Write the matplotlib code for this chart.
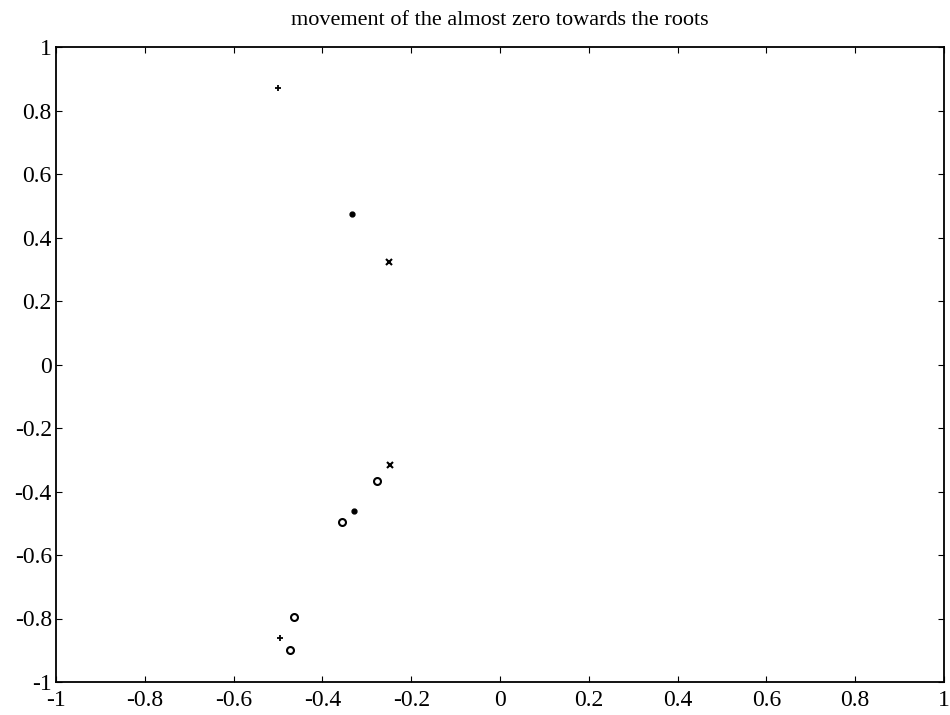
import numpy as np
import matplotlib
matplotlib.use('Agg')
from matplotlib import pyplot as plt

plt.rcParams['font.family'] = ['Liberation Serif', 'DejaVu Serif']

# points, one group per marker
plus_x = [-0.5, -0.495]
plus_y = [0.872, -0.862]
dot_x = [-0.333, -0.328]
dot_y = [0.474, -0.462]
cross_x = [-0.25, -0.248]
cross_y = [0.324, -0.316]
circ_x = [-0.276, -0.355, -0.463, -0.472]
circ_y = [-0.366, -0.495, -0.795, -0.898]

ticks = np.arange(-1, 1.01, 0.2)
tick_labels = ['-1', '-0.8', '-0.6', '-0.4', '-0.2', '0', '0.2', '0.4', '0.6', '0.8', '1']

fig = plt.figure(figsize=(9.5, 7.15), dpi=100)
ax = fig.add_axes([56/950, 1 - 682/715, 888/950, 635/715])

ax.plot(plus_x, plus_y, 'k+', markersize=5, markeredgewidth=1.3)
ax.plot(dot_x, dot_y, 'k.', markersize=7)
ax.plot(cross_x, cross_y, 'kx', markersize=4, markeredgewidth=1.5)
ax.plot(circ_x, circ_y, 'ko', markersize=5, markerfacecolor='none', markeredgewidth=1.5)

ax.set_xlim(-1, 1)
ax.set_ylim(-1, 1)
ax.set_xticks(ticks)
ax.set_xticklabels(tick_labels)
ax.set_yticks(ticks)
ax.set_yticklabels(tick_labels)
ax.tick_params(direction='in', top=True, right=True, labelsize=17, length=4)
ax.tick_params(axis='x', pad=6)
ax.tick_params(axis='y', pad=3)
for s in ax.spines.values():
    s.set_linewidth(1.3)

ax.set_title('movement of the almost zero towards the roots', fontsize=16, pad=16)

fig.savefig('out.png', dpi=100)
